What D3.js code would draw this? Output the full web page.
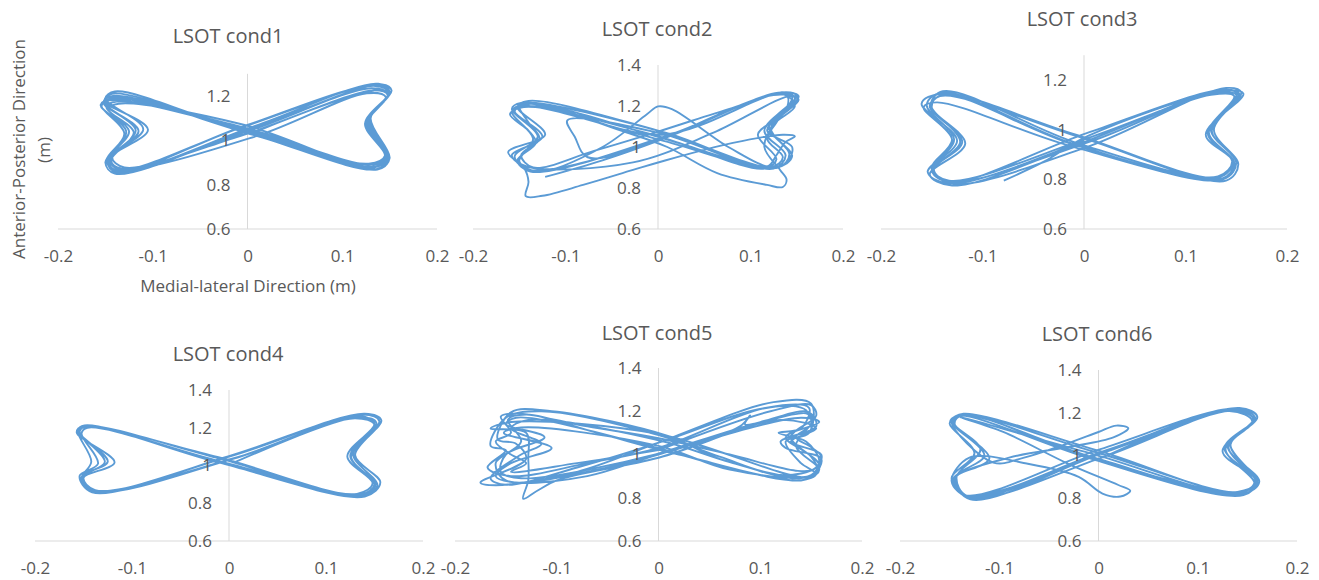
<!DOCTYPE html>
<head>
<meta charset="utf-8">
<style>
  body { margin: 0; background: #fff; }
  svg { display: block; font-family: "Open Sans", sans-serif; }
  .axis-line { stroke: #d9d9d9; stroke-width: 1; }
  .tick-label { fill: #595959; font-size: 17px; }
  .title { fill: #595959; font-size: 20px; }
  .axis-title { fill: #595959; font-size: 17px; }
  .trace { fill: none; stroke: #5b9bd5; stroke-width: 1.9; stroke-linejoin: round; }
</style>
</head>
<body>
<svg width="1319" height="580" id="svgMain"></svg>
<script src="https://cdn.jsdelivr.net/npm/d3@7"></script>
<script>
//-----------------------------------------------------
//  DATA: ML (x) / AP (y) position traces
//-----------------------------------------------------
var titles = ["LSOT cond1", "LSOT cond2", "LSOT cond3", "LSOT cond4", "LSOT cond5", "LSOT cond6"];
var xTicks = [-0.2, -0.1, 0, 0.1, 0.2];
var yTicks = [0.6, 0.8, 1, 1.2, 1.4];
var yMax = [1.3, 1.4, 1.3, 1.4, 1.4, 1.4];

var cond1 = [
  [0.004,1.030],[0.128,1.215],[0.146,1.195],[0.126,1.085],[0.146,0.925],[0.133,0.890],
  [-0.006,1.060],[-0.138,1.175],[-0.149,1.150],[-0.125,1.040],[-0.146,0.915],[-0.135,0.868],
  [-0.008,1.055],[0.135,1.245],[0.149,1.215],[0.128,1.090],[0.148,0.918],[0.136,0.870],
  [0.006,1.025],[-0.142,1.200],[-0.152,1.170],[-0.118,1.045],[-0.148,0.905],[-0.138,0.855],
  [0.008,1.065],[0.138,1.255],[0.150,1.220],[0.124,1.075],[0.145,0.930],[0.128,0.895],
  [-0.010,1.050],[-0.140,1.220],[-0.150,1.188],[-0.110,1.050],[-0.143,0.925],[-0.130,0.878],
  [-0.004,1.025],[0.133,1.225],[0.148,1.205],[0.129,1.095],[0.149,0.912],[0.137,0.868],
  [0.010,1.035],[-0.146,1.180],[-0.154,1.155],[-0.130,1.030],[-0.150,0.900],[-0.140,0.850],
  [0.002,1.048],[0.142,1.252],[0.152,1.225],[0.127,1.080],[0.147,0.922],[0.134,0.878],
  [-0.004,1.070],[-0.136,1.165],[-0.147,1.140],[-0.120,1.035],[-0.144,0.910],[-0.133,0.872],
  [0.010,1.020],[0.126,1.212],[0.146,1.195],[0.125,1.070],[0.146,0.928],[0.130,0.892],
  [0.000,1.042],[-0.139,1.195],[-0.150,1.165],[-0.115,1.042],[-0.147,0.912],[-0.137,0.858],
  [-0.006,1.060],[0.137,1.248],[0.150,1.212],[0.130,1.100],[0.150,0.920],[0.139,0.872],
  [0.004,1.030],[-0.143,1.210],[-0.151,1.178],[-0.105,1.048],[-0.145,0.918],[-0.134,0.865],
  [0.000,1.040],[0.131,1.235],[0.148,1.208],[0.127,1.088],[0.147,0.924],[0.135,0.882],
  [-0.008,1.058],[-0.141,1.188],[-0.155,1.160],[-0.128,1.038],[-0.149,0.908],[-0.136,0.862],
  [0.000,1.045]
];

var cond2 = [
  [-0.122,0.854],[-0.060,0.935],[0.000,1.030],[0.125,1.255],[0.148,1.240],[0.115,1.080],[0.138,0.960],[0.125,0.895],
  [0.008,1.070],[-0.148,1.215],[-0.158,1.185],[-0.130,1.050],[-0.155,0.955],[-0.140,0.890],
  [-0.008,1.020],[0.130,1.265],[0.150,1.250],[0.120,1.100],[0.142,0.965],[0.130,0.900],
  [0.000,1.080],[-0.140,1.225],[-0.152,1.195],[-0.122,1.060],[-0.162,0.975],[-0.145,0.900],
  [-0.140,0.830],[-0.143,0.760],[-0.125,0.762],[-0.081,0.815],[-0.027,0.888],[0.002,0.927],
  [0.081,1.020],[0.135,1.060],[0.148,1.052],[0.138,1.025],[0.128,0.960],[0.118,0.905],
  [0.000,1.070],[-0.098,1.130],[-0.090,1.050],[-0.076,0.950],
  [0.005,1.040],[0.128,1.262],[0.152,1.248],[0.128,1.140],[0.108,1.060],[0.128,0.940],[0.115,0.895],
  [-0.006,1.060],[-0.145,1.195],[-0.160,1.160],[-0.140,1.080],[-0.132,1.020],[-0.152,0.935],[-0.138,0.880],
  [0.010,1.055],[0.120,1.250],[0.145,1.245],[0.128,1.120],[0.118,1.040],[0.135,0.950],[0.122,0.900],
  [0.002,1.035],[-0.150,1.200],[-0.158,1.170],[-0.135,1.040],[-0.150,0.930],[-0.130,0.880],
  [-0.060,1.000],[-0.012,1.160],[0.000,1.198],[0.015,1.185],[0.078,0.995],[0.124,0.900],
  [0.140,0.930],[0.145,1.000],[0.118,1.080],[0.140,1.200],[0.138,1.262],
  [0.080,1.190],[0.000,1.075],[-0.070,0.980],[-0.135,0.900],[-0.148,0.960],[-0.128,1.040],
  [-0.140,1.120],[-0.150,1.200],[-0.135,1.215],
  [-0.040,1.080],[0.010,1.000],[0.064,0.873],[0.118,0.815],[0.135,0.805],[0.139,0.840],
  [0.132,0.888],[0.115,1.000],[0.125,1.110],[0.148,1.200],[0.135,1.258],
  [0.005,1.060],[-0.140,1.210],[-0.155,1.175],[-0.125,1.050],[-0.158,0.960],[-0.142,0.905],
  [-0.027,0.925],[0.060,1.070],[0.145,1.250],[0.152,1.230],[0.122,1.090],[0.145,0.955],
  [0.128,0.900],[0.000,1.050],[-0.110,1.190],[-0.145,1.200]
];

var cond3 = [
  [-0.079,0.795],[-0.040,0.870],[0.004,0.975],[0.130,1.150],[0.150,1.140],[0.125,1.000],[0.150,0.870],[0.137,0.805],
  [-0.010,0.940],[-0.138,1.140],[-0.152,1.095],[-0.120,0.950],[-0.148,0.840],[-0.132,0.790],
  [0.002,0.985],[0.135,1.160],[0.153,1.145],[0.123,0.990],[0.148,0.865],[0.135,0.800],
  [-0.012,0.945],[-0.140,1.150],[-0.155,1.100],[-0.128,0.960],[-0.150,0.835],[-0.128,0.782],
  [0.006,0.935],[0.140,1.168],[0.155,1.150],[0.128,1.000],[0.152,0.860],[0.140,0.795],
  [-0.004,0.970],[-0.142,1.135],[-0.150,1.090],[-0.117,0.944],[-0.152,0.820],[-0.130,0.775],
  [0.000,0.950],[0.132,1.155],[0.157,1.145],[0.120,0.980],[0.147,0.870],[0.133,0.808],
  [-0.008,0.980],[-0.140,1.145],[-0.160,1.105],[-0.125,0.955],[-0.154,0.830],[-0.135,0.785],
  [0.008,0.955],[0.138,1.162],[0.152,1.140],[0.126,0.995],[0.150,0.868],[0.138,0.802],
  [-0.014,0.935],[-0.145,1.110],[-0.158,1.090],[-0.130,0.960],[-0.150,0.845],[-0.133,0.795],
  [0.003,0.965],[0.125,1.140],[0.148,1.135],[0.122,0.985],[0.146,0.872],[0.132,0.812],
  [-0.006,0.945],[-0.139,1.155],[-0.151,1.100],[-0.122,0.950],[-0.149,0.838],[-0.129,0.786],
  [0.000,0.958]
];

var cond4 = [
  [0.005,1.015],[0.132,1.255],[0.152,1.225],[0.125,1.050],[0.150,0.900],[0.135,0.845],
  [-0.012,1.045],[-0.148,1.205],[-0.155,1.180],[-0.125,1.020],[-0.152,0.940],[-0.140,0.865],
  [0.002,1.050],[0.138,1.270],[0.155,1.235],[0.128,1.060],[0.153,0.895],[0.138,0.838],
  [-0.010,1.015],[-0.150,1.210],[-0.157,1.175],[-0.118,1.016],[-0.150,0.935],[-0.138,0.870],
  [0.006,1.040],[0.135,1.262],[0.150,1.220],[0.122,1.048],[0.148,0.905],[0.132,0.850],
  [-0.008,1.020],[-0.146,1.200],[-0.152,1.170],[-0.135,1.010],[-0.154,0.945],[-0.141,0.858],
  [0.000,1.050],[0.140,1.275],[0.157,1.240],[0.130,1.055],[0.156,0.910],[0.140,0.836],
  [-0.004,1.010],[-0.149,1.212],[-0.156,1.185],[-0.142,1.020],[-0.152,0.930],[-0.135,0.862],
  [0.004,1.035],[0.130,1.250],[0.150,1.215],[0.126,1.045],[0.151,0.898],[0.136,0.842],
  [-0.012,1.040],[-0.147,1.208],[-0.154,1.178],[-0.128,1.018],[-0.151,0.938],[-0.139,0.868],
  [0.000,1.030]
];

var cond5 = [
  [0.000,1.020],[0.110,1.200],[0.150,1.228],[0.155,1.180],[0.130,1.080],[0.158,0.950],[0.145,0.885],
  [0.020,1.000],[-0.060,1.100],[-0.130,1.185],[-0.148,1.160],[-0.135,1.060],[-0.160,0.960],[-0.150,0.880],
  [-0.060,0.930],[-0.010,0.990],[0.100,1.150],[0.148,1.195],[0.155,1.130],[0.120,1.060],[0.125,1.030],[0.160,0.980],[0.150,0.900],
  [0.060,0.980],[0.010,1.085],[-0.105,1.200],[-0.145,1.195],[-0.158,1.070],[-0.140,1.050],[-0.130,0.980],[-0.175,0.870],[-0.160,0.858],
  [-0.080,0.920],[0.000,1.055],[0.113,1.242],[0.150,1.235],[0.148,1.100],[0.125,1.060],[0.140,0.960],[0.155,0.910],[0.140,0.880],
  [0.060,0.950],[-0.005,1.035],[-0.140,1.170],[-0.150,1.140],[-0.112,1.080],[-0.150,1.000],[-0.155,0.920],[-0.135,0.890],
  [0.005,1.010],[0.080,1.130],[0.090,1.180],[0.085,1.140],[0.145,1.190],[0.152,1.160],[0.135,1.040],[0.158,0.930],[0.148,0.895],
  [0.000,1.095],[-0.145,1.150],[-0.165,1.120],[-0.130,1.100],[-0.128,0.980],[-0.128,0.880],[-0.133,0.795],[-0.120,0.830],[-0.100,0.880],
  [0.000,0.985],[0.120,1.160],[0.155,1.120],[0.130,1.060],[0.160,1.000],[0.155,0.940],[0.120,0.905],
  [0.060,0.990],[0.000,1.090],[-0.115,1.200],[-0.150,1.170],[-0.165,1.040],[-0.150,1.020],[-0.168,0.940],[-0.145,0.900],
  [-0.070,0.960],[0.000,1.030],[0.105,1.215],[0.148,1.215],[0.140,1.120],[0.118,1.100],[0.145,1.060],[0.158,0.970],[0.150,0.905],
  [0.070,0.930],[0.000,1.040],[-0.135,1.125],[-0.152,1.100],[-0.105,1.030],[-0.145,0.960],[-0.160,0.900],[-0.140,0.870],
  [-0.070,0.900],[0.000,1.000],[0.140,1.170],[0.158,1.150],[0.125,1.080],[0.150,0.990],[0.156,0.925],[0.138,0.890],
  [0.070,0.965],[0.005,1.060],[-0.128,1.160],[-0.145,1.120],[-0.115,1.050],[-0.135,1.000],[-0.165,0.890],[-0.150,0.860],
  [-0.080,0.940],[0.010,1.070],[0.090,1.200],[0.130,1.225],[0.145,1.205],[0.150,1.140],[0.135,1.080],[0.148,1.040],[0.160,0.990],[0.152,0.930],[0.135,0.925],
  [0.070,1.000],[0.000,1.075],[-0.070,1.130],[-0.140,1.190],[-0.155,1.175],[-0.145,1.100],[-0.160,1.060],[-0.145,1.000],[-0.130,0.960],[-0.145,0.920],
  [-0.080,0.960],[0.000,1.020]
];

var cond6 = [
  [0.004,0.990],[0.136,1.214],[0.157,1.167],[0.131,1.040],[0.159,0.874],[0.143,0.828],
  [-0.006,1.020],[-0.139,1.190],[-0.146,1.153],[-0.119,1.028],[-0.143,0.900],[-0.132,0.810],
  [0.008,1.025],[0.140,1.220],[0.160,1.180],[0.125,1.020],[0.160,0.880],[0.146,0.815],
  [-0.008,0.985],[-0.136,1.195],[-0.148,1.160],[-0.106,0.967],[-0.075,0.990],[-0.035,1.050],
  [0.000,1.110],[0.018,1.140],[0.030,1.128],[0.015,1.085],[-0.030,1.040],[-0.090,0.990],[-0.145,0.890],[-0.129,0.795],
  [0.006,1.015],[0.132,1.208],[0.155,1.160],[0.128,1.030],[0.157,0.870],[0.140,0.830],
  [-0.004,0.980],[-0.142,1.185],[-0.150,1.150],[-0.125,1.010],[-0.148,0.895],[-0.135,0.815],
  [0.002,1.030],[0.138,1.218],[0.158,1.175],[0.130,1.045],[0.162,0.878],[0.145,0.820],
  [-0.008,1.010],[-0.140,1.180],[-0.096,1.110],[-0.030,0.960],[0.020,0.862],[0.032,0.835],[0.022,0.808],
  [0.004,0.822],[-0.020,0.900],[-0.070,0.960],[-0.130,0.990],[-0.148,0.880],[-0.128,0.800],
  [0.006,0.995],[0.135,1.210],[0.156,1.170],[0.133,1.050],[0.158,0.882],[0.142,0.825],
  [-0.002,1.025],[-0.138,1.192],[-0.147,1.155],[-0.115,1.000],[-0.144,0.898],[-0.131,0.805],
  [0.004,1.012],[0.142,1.222],[0.160,1.182],[0.127,1.035],[0.160,0.872],[0.144,0.818],
  [-0.006,0.992],[-0.137,1.188],[-0.145,1.150],[-0.110,0.985],[-0.146,0.893],[-0.133,0.812],
  [0.000,1.005]
];

var conds = [cond1, cond2, cond3, cond4, cond5, cond6];

//-----------------------------------------------------
//  PANEL PLACEMENT (pixels)
//-----------------------------------------------------
var layout = [
  {x0: 58,  x1: 437,  yb: 229, yt: 73.8, tx: 228,  ty: 35},
  {x0: 473, x1: 843,  yb: 229, yt: 65,   tx: 657,  ty: 28},
  {x0: 881, x1: 1287, yb: 229, yt: 55.2, tx: 1082, ty: 18},
  {x0: 35,  x1: 423,  yb: 541, yt: 390,  tx: 228,  ty: 353},
  {x0: 455, x1: 862,  yb: 541, yt: 368,  tx: 657,  ty: 332},
  {x0: 900, x1: 1297, yb: 541, yt: 370,  tx: 1097, ty: 333}
];

var svg = d3.select("svg");
var fmt = function(d) { return String(d); };

var gLines = svg.append("g"),
    gTraces = svg.append("g"),
    gText = svg.append("g");

conds.forEach(function(data, i) {
  var L = layout[i];
  var x = d3.scaleLinear().domain([-0.2, 0.2]).range([L.x0, L.x1]),
      y = d3.scaleLinear().domain([0.6, yMax[i]]).range([L.yb, L.yt]);
  var yt = yTicks.filter(function(v) { return v <= yMax[i] + 1e-9; });

  // grey axis lines
  gLines.append("line").attr("class", "axis-line")
      .attr("x1", x(-0.2)).attr("x2", x(0.2))
      .attr("y1", y(0.6)).attr("y2", y(0.6));
  gLines.append("line").attr("class", "axis-line")
      .attr("x1", x(0)).attr("x2", x(0))
      .attr("y1", y(0.6)).attr("y2", y(yMax[i]));

  // trace
  var line = d3.line()
      .curve(d3.curveCatmullRom.alpha(0.5))
      .x(function(d) { return x(d[0]); })
      .y(function(d) { return y(d[1]); });
  gTraces.append("path")
      .datum(data)
      .attr("class", "trace")
      .attr("d", line);

  // tick labels via axes, domain removed
  var ax = gText.append("g")
      .attr("transform", "translate(0," + y(0.6) + ")")
      .call(d3.axisBottom(x).tickValues(xTicks).tickSize(0).tickPadding(21).tickFormat(fmt));
  var ay = gText.append("g")
      .attr("transform", "translate(" + x(0) + ",0)")
      .call(d3.axisLeft(y).tickValues(yt).tickSize(0).tickPadding(17).tickFormat(fmt));
  [ax, ay].forEach(function(a) {
    a.select(".domain").remove();
    a.attr("font-family", null).attr("font-size", null);
    a.selectAll("text").attr("class", "tick-label").attr("fill", null);
  });

  gText.append("text")
      .attr("class", "title")
      .attr("x", L.tx).attr("y", L.ty)
      .attr("text-anchor", "middle")
      .attr("dominant-baseline", "central")
      .text(titles[i]);
});

// axis titles (first panel only)
gText.append("text")
    .attr("class", "axis-title")
    .attr("x", 248).attr("y", 285)
    .attr("text-anchor", "middle")
    .attr("dominant-baseline", "central")
    .text("Medial-lateral Direction (m)");

gText.append("text")
    .attr("class", "axis-title")
    .attr("transform", "translate(18,149) rotate(-90)")
    .attr("text-anchor", "middle")
    .attr("dominant-baseline", "central")
    .text("Anterior-Posterior Direction");

gText.append("text")
    .attr("class", "axis-title")
    .attr("transform", "translate(43,150) rotate(-90)")
    .attr("text-anchor", "middle")
    .attr("dominant-baseline", "central")
    .text("(m)");
</script>
</body>
